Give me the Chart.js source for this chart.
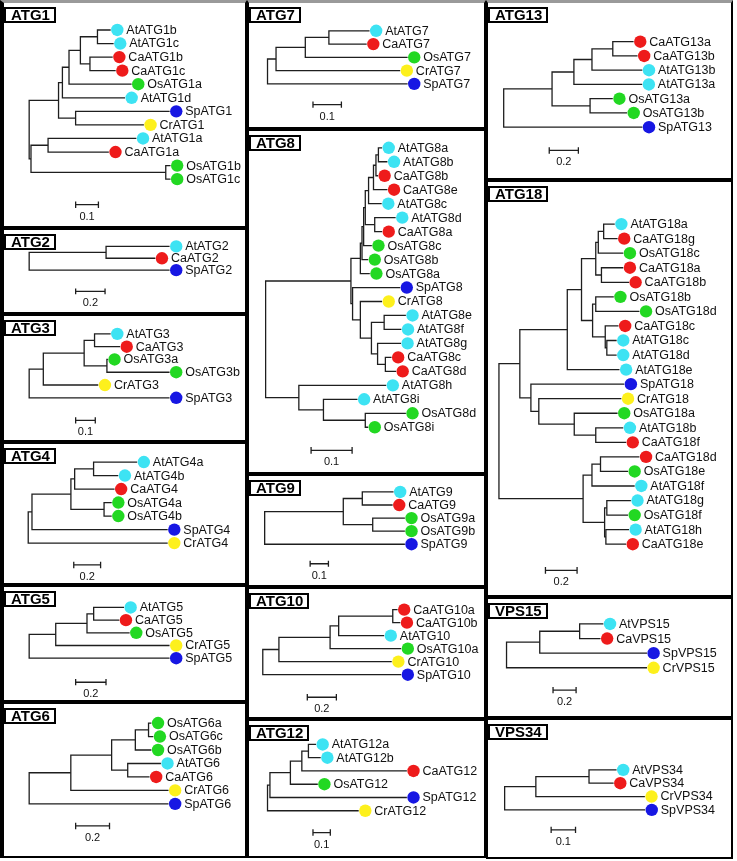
<!DOCTYPE html>
<html>
<head>
<meta charset="utf-8">
<script src="https://cdn.jsdelivr.net/npm/chart.js@4.4.1/dist/chart.umd.min.js"></script>
<style>
body{margin:0;background:#fff;width:737px;height:861px;position:relative;overflow:hidden;font-family:Arial,"Liberation Sans",sans-serif}
.panel{position:absolute;box-sizing:border-box;border:2px solid #000;background:#fff}
.title{position:absolute;box-sizing:border-box;background:#fff;border:2px solid #000;font:bold 15px Arial,"Liberation Sans",sans-serif;line-height:12px;padding:0 4px 0 5px;min-width:52px;color:#000;white-space:nowrap}
</style>
</head>
<body>
<script>
// trees in Newick, branch lengths (substitutions per site)
var atg1Tree = "((((((AtATG1b:0.058,AtATG1c:0.071):0.075,(CaATG1b:0.1,CaATG1c:0.113):0.042):0.05,OsATG1a:0.275):0.029,AtATG1d:0.275):0.017,(SpATG1:0.413,CrATG1:0.3):0.075):0.129,((AtATG1a:0.388,CaATG1a:0.267):0.075,(OsATG1b:0.021,OsATG1c:0.021):0.592):0.008);";
var atg2Tree = "((AtATG2:0.432,CaATG2:0.335):0.523,SpATG2:0.955);";
var atg3Tree = "((((AtATG3:0.082,CaATG3:0.13):0.053,(OsATG3a:0.005,OsATG3b:0.319):0.116):0.208,CrATG3:0.28):0.072,SpATG3:0.715);";
var atg4Tree = "(((((AtATG4a:0.325,AtATG4b:0.184):0.141,CaATG4:0.297):0.028,(OsATG4a:0.057,OsATG4b:0.057):0.247):0.29,SpATG4:1.011):0.028,CrATG4:1.039);";
var atg5Tree = "((((AtATG5:0.2,CaATG5:0.169):0.044,OsATG5:0.281):0.206,CrATG5:0.75):0.175,SpATG5:0.925);";
var atg6Tree = "(((((OsATG6a:0.017,OsATG6c:0.028):0.078,OsATG6b:0.095):0.14,(AtATG6:0.196,CaATG6:0.129):0.095):0.241,CrATG6:0.577):0.246,SpATG6:0.823);";
var atg7Tree = "((((AtATG7:0.143,CaATG7:0.133):0.083,OsATG7:0.36):0.103,CrATG7:0.437):0.03,SpATG7:0.493);";
var atg8Tree = "((((((((((AtATG8a:0.009,AtATG8b:0.022):0.006,CaATG8b:0.005):0.006,CaATG8e:0.034):0.012,AtATG8c:0.032):0.008,(AtATG8d:0.051,CaATG8a:0.018):0.023):0.004,OsATG8c:0.02):0.004,OsATG8b:0.015):0.004,OsATG8a:0.023):0.023,(SpATG8:0.116,(CrATG8:0.053,((AtATG8e:0.053,AtATG8f:0.042):0.031,(AtATG8g:0.057,(CaATG8c:0.015,CaATG8d:0.026):0.019):0.015):0.027):0.019):0.004):0.208,(AtATG8h:0.213,(AtATG8i:0.083,(OsATG8d:0.099,OsATG8i:0.007):0.102):0.06):0.081);";
var atg9Tree = "(((AtATG9:0.171,CaATG9:0.166):0.104,(OsATG9a:0.176,OsATG9b:0.176):0.161):0.43,SpATG9:0.767);";
var atg10Tree = "(((((CaATG10a:0.033,CaATG10b:0.052):0.372,AtATG10:0.313):0.059,OsATG10a:0.489):0.352,CrATG10:0.776):0.111,SpATG10:0.952);";
var atg12Tree = "(((((AtATG12a:0.044,AtATG12b:0.071):0.038,CaATG12:0.606):0.066,OsATG12:0.158):0.118,SpATG12:0.79):0.014,CrATG12:0.526);";
var atg13Tree = "(((((CaATG13a:0.143,CaATG13b:0.17):0.143,AtATG13b:0.346):0.124,AtATG13a:0.469):0.15,(OsATG13a:0.156,OsATG13b:0.254):0.261):0.332,SpATG13:0.952);";
var atg18Tree = "(((((((AtATG18a:0.07,CaATG18g:0.088):0.034,OsATG18c:0.158):0.016,(CaATG18a:0.138,CaATG18b:0.174):0.036):0.09,((OsATG18b:0.114,OsATG18d:0.276):0.02,(CaATG18c:0.084,(AtATG18c:0.062,AtATG18d:0.062):0.01):0.08):0.07):0.09,AtATG18e:0.33):0.3,(SpATG18:0.59,(CrATG18:0.522,(OsATG18a:0.274,(AtATG18b:0.174,CaATG18f:0.192):0.136):0.224):0.05):0.07):0.132,(((CaATG18d:0.246,OsATG18e:0.174):0.054,AtATG18f:0.27):0.056,((AtATG18g:0.152,OsATG18f:0.134):0.014,(AtATG18h:0.146,CaATG18e:0.128):0.008):0.136):0.532);";
var vps15Tree = "(((AtVPS15:0.206,CaVPS15:0.181):0.346,SpVPS15:0.93):0.288,CrVPS15:1.218);";
var vps34Tree = "(((AtVPS34:0.113,CaVPS34:0.101):0.218,CrVPS34:0.447):0.128,SpVPS34:0.576);";

var panelNames = ['ATG1', 'ATG2', 'ATG3', 'ATG4', 'ATG5', 'ATG6', 'ATG7', 'ATG8', 'ATG9', 'ATG10', 'ATG12', 'ATG13', 'ATG18', 'VPS15', 'VPS34'];
var panelTrees = [atg1Tree, atg2Tree, atg3Tree, atg4Tree, atg5Tree, atg6Tree, atg7Tree, atg8Tree, atg9Tree, atg10Tree, atg12Tree, atg13Tree, atg18Tree, vps15Tree, vps34Tree];
var scaleBarValues = [0.1, 0.2, 0.1, 0.2, 0.2, 0.2, 0.1, 0.1, 0.1, 0.2, 0.1, 0.2, 0.2, 0.2, 0.1];

var speciesPrefixes = ['At', 'Ca', 'Os', 'Sp', 'Cr'];
var speciesColors = ['#3de3f3', '#ee1b1b', '#22d822', '#1717e3', '#fdf01c'];

// where each panel sits on the page: rect [x, y, w, h], root x, px per unit, first leaf y, leaf step, scale bar start
var layout = {
	ATG1:  {rect: [0, 0, 247, 228],     root: 24,  unit: 240,   y0: 25,  dy: 14.36, bar: [73, 210]},
	ATG2:  {rect: [0, 228, 247, 86],    root: 24,  unit: 155,   y0: 242, dy: 14,    bar: [73, 295]},
	ATG3:  {rect: [0, 314, 247, 128],   root: 24,  unit: 207,   y0: 329, dy: 14.2,  bar: [73, 425]},
	ATG4:  {rect: [0, 442, 247, 143],   root: 23,  unit: 141.5, y0: 457, dy: 14.83, bar: [71, 570]},
	ATG5:  {rect: [0, 585, 247, 117],   root: 24,  unit: 160,   y0: 603, dy: 14.25, bar: [73, 687]},
	ATG6:  {rect: [0, 702, 247, 156],   root: 24,  unit: 178.5, y0: 718, dy: 14.67, bar: [73, 830]},
	ATG7:  {rect: [247, 0, 239, 129],   root: 262, unit: 300,   y0: 27,  dy: 14.75, bar: [310, 109]},
	ATG8:  {rect: [247, 129, 239, 345], root: 260, unit: 433,   y0: 142, dy: 14.5,  bar: [308, 456]},
	ATG9:  {rect: [247, 474, 239, 113], root: 259, unit: 193,   y0: 487, dy: 14.75, bar: [307, 568]},
	ATG10: {rect: [247, 587, 239, 132], root: 257, unit: 153.5, y0: 605, dy: 14.4,  bar: [304, 702]},
	ATG12: {rect: [247, 719, 239, 139], root: 262, unit: 183,   y0: 740, dy: 14.6,  bar: [310, 837]},
	ATG13: {rect: [486, 0, 247, 180],   root: 498, unit: 153.5, y0: 38,  dy: 15.33, bar: [546, 155]},
	ATG18: {rect: [486, 180, 247, 417], root: 493, unit: 166.7, y0: 219, dy: 15.0,  bar: [542, 576]},
	VPS15: {rect: [486, 597, 247, 121], root: 501, unit: 121.5, y0: 620, dy: 16.33, bar: [550, 694]},
	VPS34: {rect: [486, 718, 247, 141], root: 499, unit: 257,   y0: 768, dy: 14.67, bar: [548, 834]}
};

function parseNewick(s){
	var i = 0;
	function node(){
		var n = {children: [], name: '', len: 0};
		if(s[i] === '('){
			i++;
			n.children.push(node());
			while(s[i] === ','){ i++; n.children.push(node()); }
			i++; // ')'
		}
		var name = '';
		while(i < s.length && ',():;'.indexOf(s[i]) < 0) name += s[i++];
		n.name = name.trim();
		if(s[i] === ':'){
			i++;
			var num = '';
			while(i < s.length && ',();'.indexOf(s[i]) < 0) num += s[i++];
			n.len = parseFloat(num);
		}
		return n;
	}
	return node();
}

function layoutTree(root){
	var leaves = [], inner = [];
	(function walk(n, x){
		n.x = x;
		if(!n.children.length){ n.y = leaves.length; leaves.push(n); return; }
		n.children.forEach(c => walk(c, x + c.len));
		n.y = (n.children[0].y + n.children[n.children.length - 1].y) / 2;
		inner.push(n);
	})(root, 0);
	return {leaves: leaves, inner: inner};
}

function lineSet(data){
	return {data: data, showLine: true, borderColor: '#1e1e1e', backgroundColor: '#1e1e1e', borderWidth: 1.3, pointRadius: 0, fill: false, tension: 0, order: 1};
}

panelNames.forEach((name, k) => {
	var L = layout[name];
	var px = L.rect[0], py = L.rect[1], pw = L.rect[2], ph = L.rect[3];
	var bl = px === 0 ? 4 : 2, bt = py === 0 ? 3 : 2, br = 2, bb = 2;

	var box = document.createElement('div');
	box.className = 'panel';
	box.style.cssText = 'left:' + px + 'px;top:' + py + 'px;width:' + pw + 'px;height:' + ph + 'px;border-width:' + bt + 'px ' + br + 'px ' + bb + 'px ' + bl + 'px;' + (py === 0 ? 'border-top-color:#9a9a9a;' : '');
	document.body.appendChild(box);

	var cx = px + bl, cy = py + bt, cw = pw - bl - br, ch = ph - bt - bb;
	var canvas = document.createElement('canvas');
	canvas.width = cw; canvas.height = ch;
	canvas.style.cssText = 'position:absolute;left:' + cx + 'px;top:' + cy + 'px;width:' + cw + 'px;height:' + ch + 'px';
	document.body.appendChild(canvas);

	var title = document.createElement('div');
	title.className = 'title';
	title.textContent = name;
	title.style.left = cx + 'px';
	title.style.top = (cy + 4) + 'px';
	document.body.appendChild(title);

	var tree = layoutTree(parseNewick(panelTrees[k]));
	var toX = p => (p - L.root) / L.unit;
	var toY = p => (p - L.y0) / L.dy;
	var gap = 7 / L.unit;

	var datasets = [];
	// 葉的圓點
	speciesPrefixes.forEach((sp, i) => {
		var pts = tree.leaves.filter(l => l.name.indexOf(sp) === 0).map(l => ({x: l.x + gap, y: l.y}));
		if(pts.length) datasets.push({data: pts, showLine: false, pointRadius: 6.2, pointBackgroundColor: speciesColors[i], backgroundColor: speciesColors[i], borderColor: speciesColors[i], pointBorderWidth: 0, order: 0});
	});
	// 分支
	tree.inner.forEach(n => {
		var a = n.children[0], b = n.children[n.children.length - 1];
		datasets.push(lineSet([{x: a.x, y: a.y}, {x: n.x, y: a.y}, {x: n.x, y: b.y}, {x: b.x, y: b.y}]));
		n.children.slice(1, -1).forEach(c => datasets.push(lineSet([{x: n.x, y: c.y}, {x: c.x, y: c.y}])));
	});
	// scale bar
	var bx0 = toX(L.bar[0]), bx1 = bx0 + scaleBarValues[k], by = toY(L.bar[1]), t = 3.5 / L.dy;
	datasets.push(lineSet([{x: bx0, y: by - t}, {x: bx0, y: by + t}, {x: bx0, y: by}, {x: bx1, y: by}, {x: bx1, y: by - t}, {x: bx1, y: by + t}]));

	var labelPlugin = {
		id: 'leafLabels',
		afterDatasetsDraw(chart){
			var ctx = chart.ctx, xs = chart.scales.x, ys = chart.scales.y;
			ctx.save();
			ctx.fillStyle = '#111';
			ctx.font = '12.5px Arial, "Liberation Sans", sans-serif';
			ctx.textBaseline = 'middle';
			tree.leaves.forEach(l => {
				ctx.fillText(l.name, xs.getPixelForValue(l.x + gap) + 9, ys.getPixelForValue(l.y) + 0.5);
			});
			ctx.font = '11px Arial, "Liberation Sans", sans-serif';
			ctx.textAlign = 'center';
			ctx.fillText(String(scaleBarValues[k]), xs.getPixelForValue((bx0 + bx1) / 2), ys.getPixelForValue(by) + 12);
			ctx.restore();
		}
	};

	new Chart(canvas, {
		type: 'scatter',
		data: {datasets: datasets},
		options: {
			responsive: false,
			animation: false,
			events: [],
			layout: {padding: 0},
			plugins: {legend: {display: false}, tooltip: {enabled: false}},
			scales: {
				x: {type: 'linear', display: false, min: toX(cx), max: toX(cx + cw)},
				y: {type: 'linear', display: false, reverse: true, min: toY(cy), max: toY(cy + ch)}
			}
		},
		plugins: [labelPlugin]
	});
});
</script>
</body>
</html>
